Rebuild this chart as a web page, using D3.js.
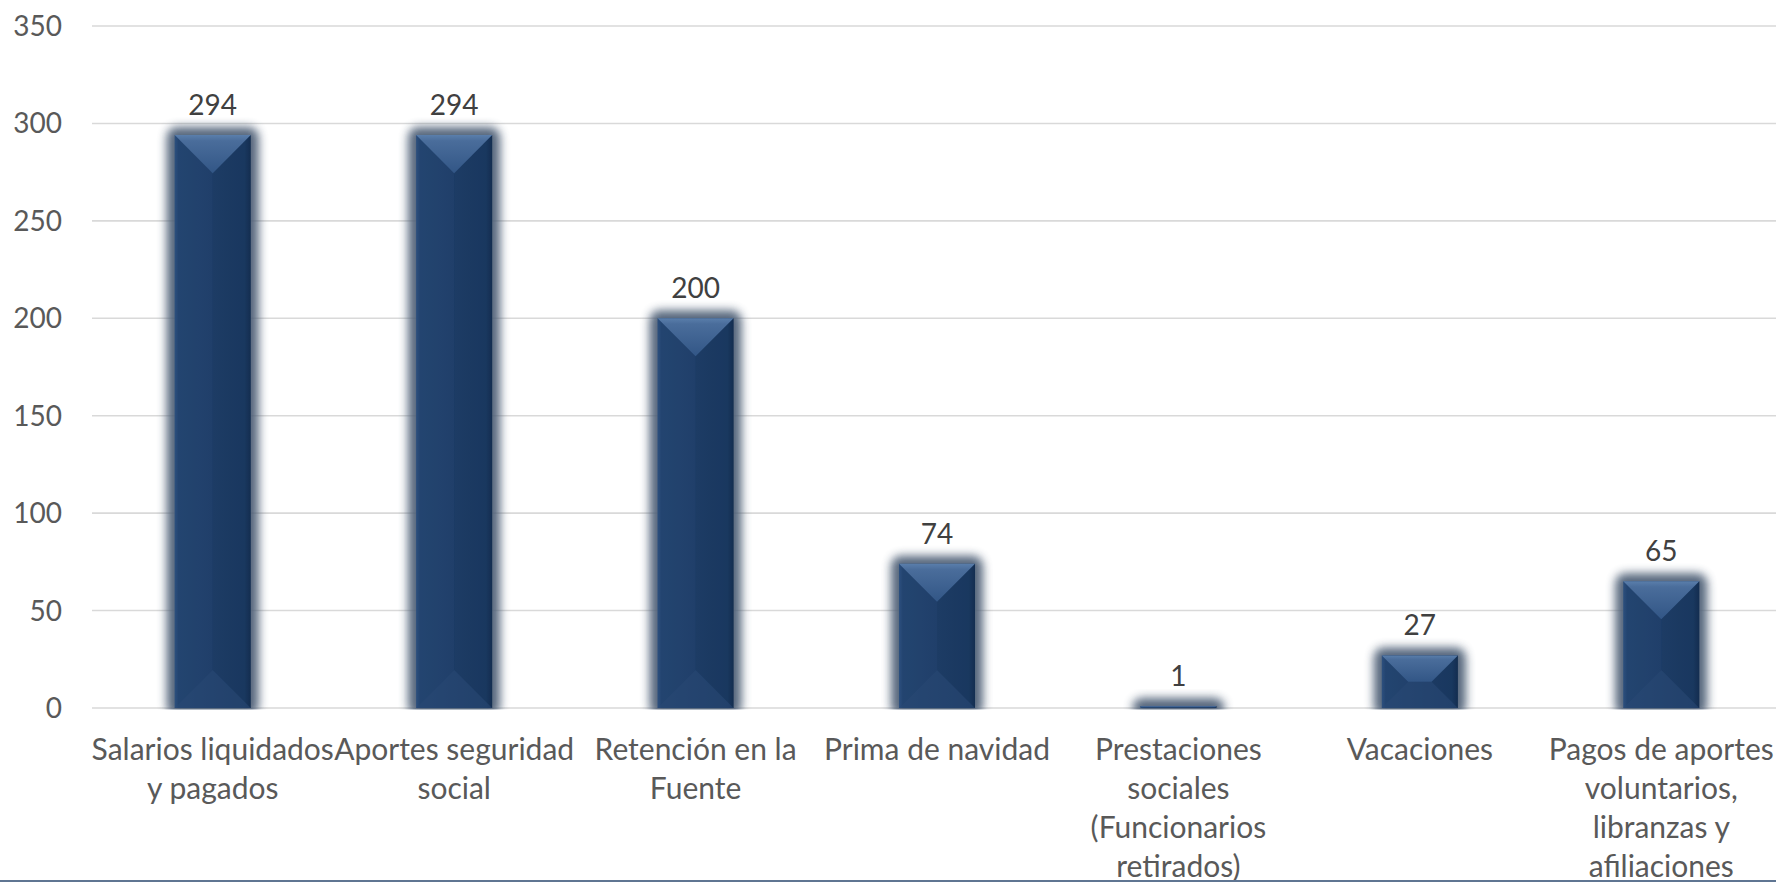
<!DOCTYPE html>
<html><head><meta charset="utf-8">
<script src="https://cdn.jsdelivr.net/npm/d3@7/dist/d3.min.js"></script>
<style>html,body{margin:0;padding:0;background:#fff;overflow:hidden}</style>
</head><body>
<svg id="chart" width="1776" height="882"></svg>
<script>
const categories = [
  "Salarios liquidados\ny pagados",
  "Aportes seguridad\nsocial",
  "Retención en la\nFuente",
  "Prima de navidad",
  "Prestaciones\nsociales\n(Funcionarios\nretirados)",
  "Vacaciones",
  "Pagos de aportes\nvoluntarios,\nlibranzas y\nafiliaciones"
];
const values = [294, 294, 200, 74, 1, 27, 65];
const yTicks = [0, 50, 100, 150, 200, 250, 300, 350];

const W = 1776, H = 882;
const svg = d3.select("#chart");
const FONT = "Lato, 'Open Sans', sans-serif";

const x = d3.scaleBand().domain(categories).range([92, 1782]).paddingInner(0.685).paddingOuter(0.3425);
const y = d3.scaleLinear().domain([0, 350]).range([708, 26]);

const defs = svg.append("defs");
const glow = defs.append("filter").attr("id","glow").attr("x","-50%").attr("y","-50%").attr("width","200%").attr("height","200%");
glow.append("feGaussianBlur").attr("stdDeviation", 5);
defs.append("clipPath").attr("id","plotclip").append("rect").attr("x",0).attr("y",0).attr("width",W).attr("height",709.5);

const gBody = defs.append("linearGradient").attr("id","gBody").attr("x1",0).attr("x2",1).attr("y1",0).attr("y2",0);
[[0,"#2e5180"],[0.05,"#23446f"],[0.5,"#1f3e68"],[0.92,"#1b3961"],[1,"#142d50"]].forEach(s=>gBody.append("stop").attr("offset",s[0]).attr("stop-color",s[1]));
const gTop = defs.append("linearGradient").attr("id","gTop").attr("x1",0).attr("x2",0).attr("y1",0).attr("y2",1);
[[0,"#5a7eab"],[0.15,"#4a6d9b"],[1,"#325686"]].forEach(s=>gTop.append("stop").attr("offset",s[0]).attr("stop-color",s[1]));

// gridlines
svg.append("g").selectAll("line").data(yTicks).join("line")
  .attr("x1", 92).attr("x2", W).attr("y1", d=>y(d)).attr("y2", d=>y(d))
  .attr("stroke", "#d9d9d9").attr("stroke-width", 1.6);

// y tick labels
svg.append("g").selectAll("text").data(yTicks).join("text")
  .attr("x", 62).attr("y", d=>y(d)+10).attr("text-anchor","end")
  .attr("font-family", FONT).attr("font-size", 28).attr("fill", "#595959")
  .text(d=>d);

const bars = svg.append("g").selectAll("g").data(values.map((v,i)=>({v, c:categories[i]}))).join("g");

// glow
bars.append("rect").attr("clip-path","url(#plotclip)")
  .attr("x", d=>x(d.c)-8).attr("y", d=>y(d.v)-8)
  .attr("width", x.bandwidth()+16).attr("height", d=>y(0)-y(d.v)+16)
  .attr("rx", 10).attr("fill", "#4d5f76").attr("opacity", 0.95).attr("filter","url(#glow)");

// body
bars.append("rect")
  .attr("x", d=>x(d.c)).attr("y", d=>y(d.v))
  .attr("width", x.bandwidth()).attr("height", d=>y(0)-y(d.v))
  .attr("fill", "url(#gBody)");

function facePts(d, side){
  const x0 = x(d.c), w = x.bandwidth(), y0 = y(d.v), h = y(0)-y(d.v);
  const k = Math.min(w/2, h/2);
  const x1 = x0+w, y1 = y0+h;
  if (side==="top") return [[x0,y0],[x1,y0],[x1-k,y0+k],[x0+k,y0+k]];
  if (side==="bottom") return [[x0,y1],[x1,y1],[x1-k,y1-k],[x0+k,y1-k]];
  if (side==="right") return [[x1,y0],[x1,y1],[x1-k,y1-k],[x1-k,y0+k]];
  return [[x0,y0],[x0,y1],[x0+k,y1-k],[x0+k,y0+k]];
}
bars.append("polygon").attr("points", d=>facePts(d,"right").join(" ")).attr("fill","#14304f").attr("opacity",0.12);
bars.append("polygon").attr("points", d=>facePts(d,"left").join(" ")).attr("fill","#2a4b78").attr("opacity",0.15);
bars.append("polygon").attr("points", d=>facePts(d,"bottom").join(" ")).attr("fill","#2a4a75").attr("opacity",0.5);
bars.append("polygon").attr("points", d=>facePts(d,"top").join(" ")).attr("fill","url(#gTop)");

// value labels
bars.append("text")
  .attr("x", d=>x(d.c)+x.bandwidth()/2).attr("y", d=>y(d.v)-20)
  .attr("text-anchor","middle").attr("font-family", FONT).attr("font-size", 28).attr("fill", "#404040")
  .text(d=>d.v);

// category labels
const cl = svg.append("g").selectAll("text").data(categories).join("text")
  .attr("text-anchor","middle").attr("font-family", FONT).attr("font-size", 30).attr("fill","#595959")
  .attr("transform", d=>`translate(${x(d)+x.bandwidth()/2},760)`);
cl.selectAll("tspan").data(d=>d.split("\n")).join("tspan")
  .attr("x", 0).attr("y", (d,i)=>i*39).text(d=>d);

// bottom border line
svg.append("line").attr("x1",0).attr("x2",W).attr("y1",881).attr("y2",881).attr("stroke","#5f7592").attr("stroke-width",2);
</script>
</body></html>
